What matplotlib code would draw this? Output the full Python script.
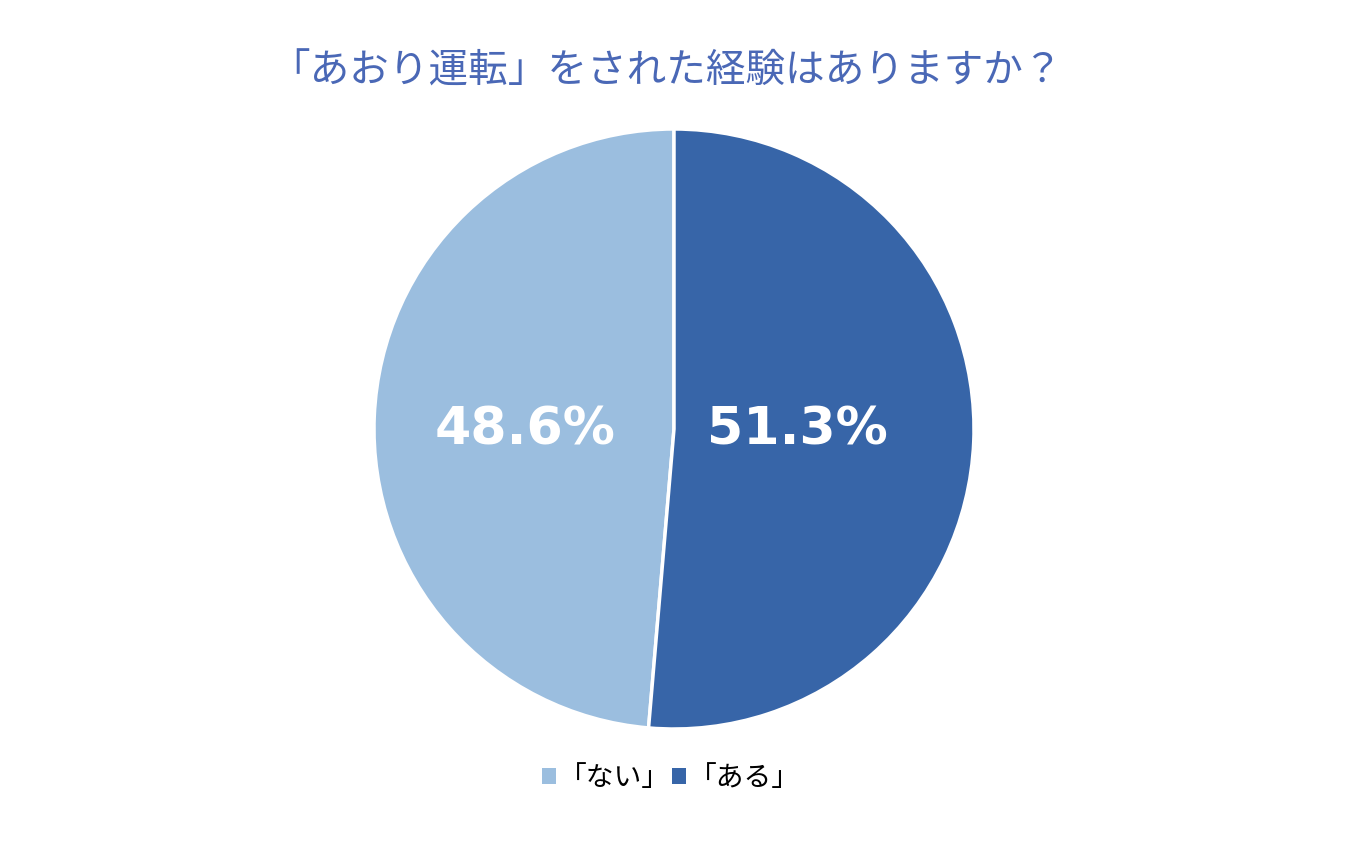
import matplotlib
matplotlib.use("Agg")
import matplotlib.pyplot as plt
from matplotlib.patches import Patch

plt.rcParams['font.family'] = ['Noto Sans CJK JP', 'DejaVu Sans']

title = "「あおり運転」をされた経験はありますか？"
categories = ["「ない」", "「ある」"]
values = [48.6, 51.3]
colors = ["#9BBEDF", "#3765A8"]

fig = plt.figure(figsize=(13.5, 8.44), dpi=100)
fig.patch.set_facecolor("white")
W, H = 1350, 844
cx, cy, r = 674, 844 - 429, 300
ax = fig.add_axes([(cx - r) / W, (cy - r) / H, 2 * r / W, 2 * r / H])
wedges, _ = ax.pie(values, colors=colors, startangle=90, counterclock=True,
                   wedgeprops=dict(edgecolor="white", linewidth=2.5))
ax.set_xlim(-1, 1)
ax.set_ylim(-1, 1)
ax.set_aspect("equal")
ax.axis("off")

label_pos = [(-0.497, -0.005), (0.41, -0.005)]
for (x, y), v in zip(label_pos, values):
    ax.text(x, y, f"{v:.1f}%", ha="center", va="center", color="white",
            fontsize=37.5, fontweight="bold", family="DejaVu Sans")

fig.text(0.494, 1 - 72 / H, title, ha="center", va="center",
         fontsize=28.5, color="#4A68B6")

handles = [Patch(facecolor=c, edgecolor="none") for c in colors]
fig.legend(handles, categories, loc="center", bbox_to_anchor=(0.497, 1 - 778 / H),
           ncol=2, frameon=False, fontsize=20, handlelength=0.5, handleheight=0.5,
           handletextpad=0.1, columnspacing=0.1)

fig.savefig("out.png", dpi=100, facecolor="white")
